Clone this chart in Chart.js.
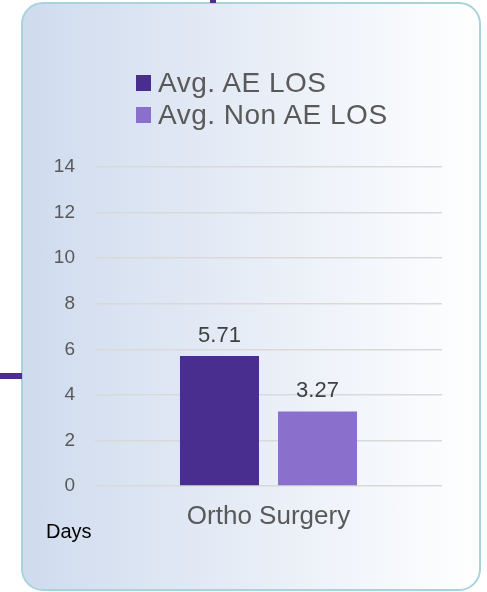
<!DOCTYPE html>
<html>
<head>
<meta charset="utf-8">
<script src="https://cdn.jsdelivr.net/npm/chart.js@4"></script>
<style>
  html, body { margin: 0; padding: 0; background: #fff; }
  body { width: 487px; height: 592px; position: relative; overflow: hidden; font-family: "Liberation Sans", Arial, sans-serif; }
  .panel {
    position: absolute; left: 21px; top: 2px; width: 456px; height: 585px;
    border: 2px solid #a9d3dc; border-radius: 22px;
    background: linear-gradient(to right, #cfdbee, #ffffff);
  }
  .conector-izq { position: absolute; left: 0; top: 373px; width: 22px; height: 6px; background: #4a2e91; }
  .conector-sup { position: absolute; left: 210px; top: 0; width: 6px; height: 3px; background: #4a2e91; }
  #grafico { position: absolute; left: 0; top: 0; }
  .leyenda { position: absolute; left: 136px; top: 67px; color: #595959; font-size: 28px; letter-spacing: 0.5px; line-height: 32px; }
  .leyenda div { display: flex; align-items: center; white-space: nowrap; }
  .leyenda span.caja { display: inline-block; width: 15px; height: 16px; margin-right: 7px; }
  .unidad { position: absolute; left: 46px; top: 520px; font-size: 20px; color: #000; }
</style>
</head>
<body>
<div class="panel"></div>
<div class="conector-izq"></div>
<div class="conector-sup"></div>
<canvas id="grafico" width="487" height="592"></canvas>
<div class="leyenda" id="leyenda"></div>
<div class="unidad">Days</div>
<script>
(function(){
  'use strict';

  // Datos del grafico
  const categorias = ['Ortho Surgery'];
  const nombresSeries = ['Avg. AE LOS', 'Avg. Non AE LOS'];
  const losAE = [5.71];
  const losNoAE = [3.27];
  const marcasY = [0, 2, 4, 6, 8, 10, 12, 14];
  const colores = ['#4a2e8f', '#8a6fcd'];

  // Leyenda en HTML (dos lineas, alineada a la izquierda)
  const leyenda = document.getElementById('leyenda');
  nombresSeries.forEach((nombre, i) => {
    const fila = document.createElement('div');
    const caja = document.createElement('span');
    caja.className = 'caja';
    caja.style.background = colores[i];
    fila.appendChild(caja);
    fila.appendChild(document.createTextNode(nombre));
    leyenda.appendChild(fila);
  });

  // Etiquetas de valor encima de cada barra
  const etiquetasValor = {
    id: 'etiquetasValor',
    afterDatasetsDraw(chart) {
      const ctx = chart.ctx;
      ctx.save();
      ctx.font = '22px "Liberation Sans", Arial, sans-serif';
      ctx.fillStyle = '#404040';
      ctx.textAlign = 'center';
      ctx.textBaseline = 'alphabetic';
      chart.data.datasets.forEach((ds, i) => {
        chart.getDatasetMeta(i).data.forEach((bar, j) => {
          ctx.fillText(ds.data[j].toFixed(2), bar.x, bar.y - 14);
        });
      });
      ctx.restore();
    }
  };

  const ctx = document.getElementById('grafico');
  new Chart(ctx, {
    type: 'bar',
    data: {
      labels: categorias,
      datasets: [{
        label: nombresSeries[0],
        data: losAE,
        backgroundColor: colores[0],
        categoryPercentage: 0.565,
        barPercentage: 0.806
      }, {
        label: nombresSeries[1],
        data: losNoAE,
        backgroundColor: colores[1],
        categoryPercentage: 0.565,
        barPercentage: 0.806
      }]
    },
    options: {
      responsive: false,
      animation: false,
      layout: { padding: { top: 167, right: 45, left: 0, bottom: 0 } },
      plugins: { legend: { display: false }, tooltip: { enabled: false } },
      scales: {
        x: {
          grid: { display: false, drawTicks: false },
          border: { display: false },
          ticks: {
            color: '#595959',
            padding: 15,
            font: { family: '"Liberation Sans", Arial, sans-serif', size: 26 }
          },
          afterFit: (s) => { s.height = 106; }
        },
        y: {
          min: marcasY[0],
          max: marcasY[marcasY.length - 1],
          grid: { color: '#d9d9d9', lineWidth: 1.5, drawTicks: false },
          border: { display: false },
          ticks: {
            stepSize: marcasY[1] - marcasY[0],
            color: '#595959',
            padding: 20,
            font: { family: '"Liberation Sans", Arial, sans-serif', size: 19 }
          },
          afterFit: (s) => { s.width = 95; }
        }
      }
    },
    plugins: [etiquetasValor]
  });
})();
</script>
</body>
</html>
